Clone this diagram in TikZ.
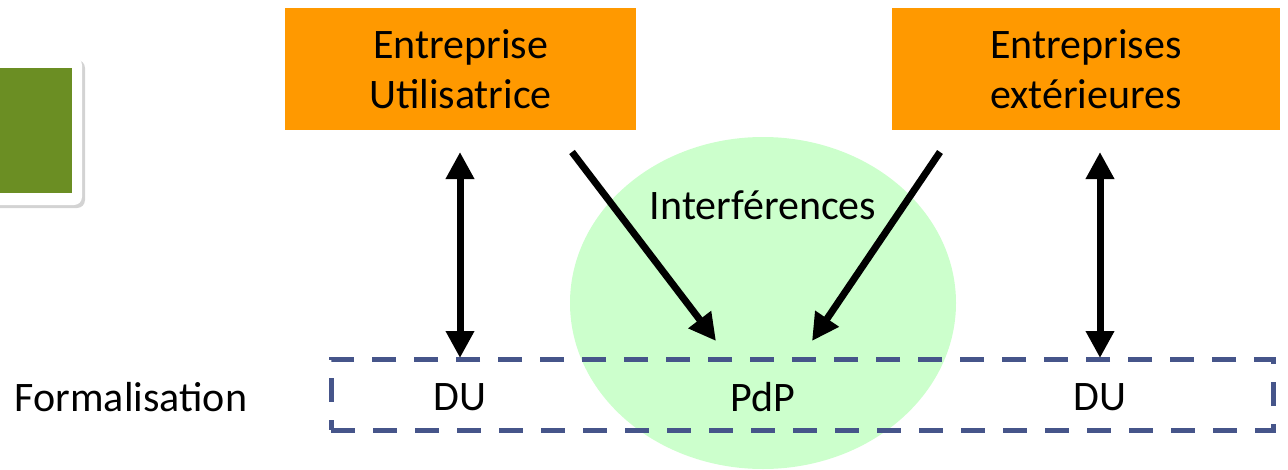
\documentclass[tikz,border=0pt]{standalone}
\usepackage{fontspec}
\setmainfont{Carlito}
\usetikzlibrary{arrows.meta,shadows}
\definecolor{boxorange}{HTML}{FF9900}
\definecolor{cardgreen}{HTML}{6B8E23}
\definecolor{bubble}{HTML}{CCFFCC}
\definecolor{dashblue}{HTML}{46558A}
\tikzset{
  orangebox/.style={fill=boxorange, inner sep=0, align=center, font=\fontsize{42}{50}\selectfont},
  lbl/.style={inner sep=0, font=\fontsize{42}{50}\selectfont},
  bigarrow/.style={line width=7pt, -{Triangle[length=27pt,width=27pt]}},
  bigdarrow/.style={line width=7pt, {Triangle[length=27pt,width=27pt]}-{Triangle[length=27pt,width=27pt]}},
}
\begin{document}
\begin{tikzpicture}[x=1pt,y=-1pt]
\useasboundingbox (0,0) rectangle (1288,469);
% card
\fill[white, rounded corners=8pt, drop shadow={opacity=0.35, shadow xshift=3pt, shadow yshift=-3pt}] (-20,57) rectangle (82,205);
\fill[cardgreen] (-5,68) rectangle (72,193);
% bubble
\fill[bubble] (763,303) ellipse [x radius=193, y radius=166];
% orange boxes
\node[orangebox, minimum width=351pt, minimum height=122pt] (eu) at (460.5,69) {Entreprise\\Utilisatrice};
\node[orangebox, minimum width=388pt, minimum height=122pt] (ee) at (1086,69) {Entreprises\\extérieures};
% dashed frame
\node[draw=dashblue, line width=5pt, dash pattern=on 24pt off 18pt, minimum width=942pt, minimum height=71pt, inner sep=0] (frame) at (802,394.5) {};
% labels
\node[lbl] (form) at (131,397) {Formalisation};
\node[lbl] (du1) at (460,397) {DU};
\node[lbl] (pdp) at (763,397) {PdP};
\node[lbl] (du2) at (1100,397) {DU};
\node[lbl] (inter) at (763,205) {Interférences};
% connector endpoints
\coordinate (a1) at (460,152);
\coordinate (a2) at (460,358);
\coordinate (b1) at (1100,152);
\coordinate (b2) at (1100,358);
\coordinate (c1) at (572,152);
\coordinate (c2) at (716,341);
\coordinate (d1) at (940,152);
\coordinate (d2) at (812,341);
\draw[bigdarrow] (a1) -- (a2);
\draw[bigdarrow] (b1) -- (b2);
\draw[bigarrow] (c1) -- (c2);
\draw[bigarrow] (d1) -- (d2);
\end{tikzpicture}
\end{document}
